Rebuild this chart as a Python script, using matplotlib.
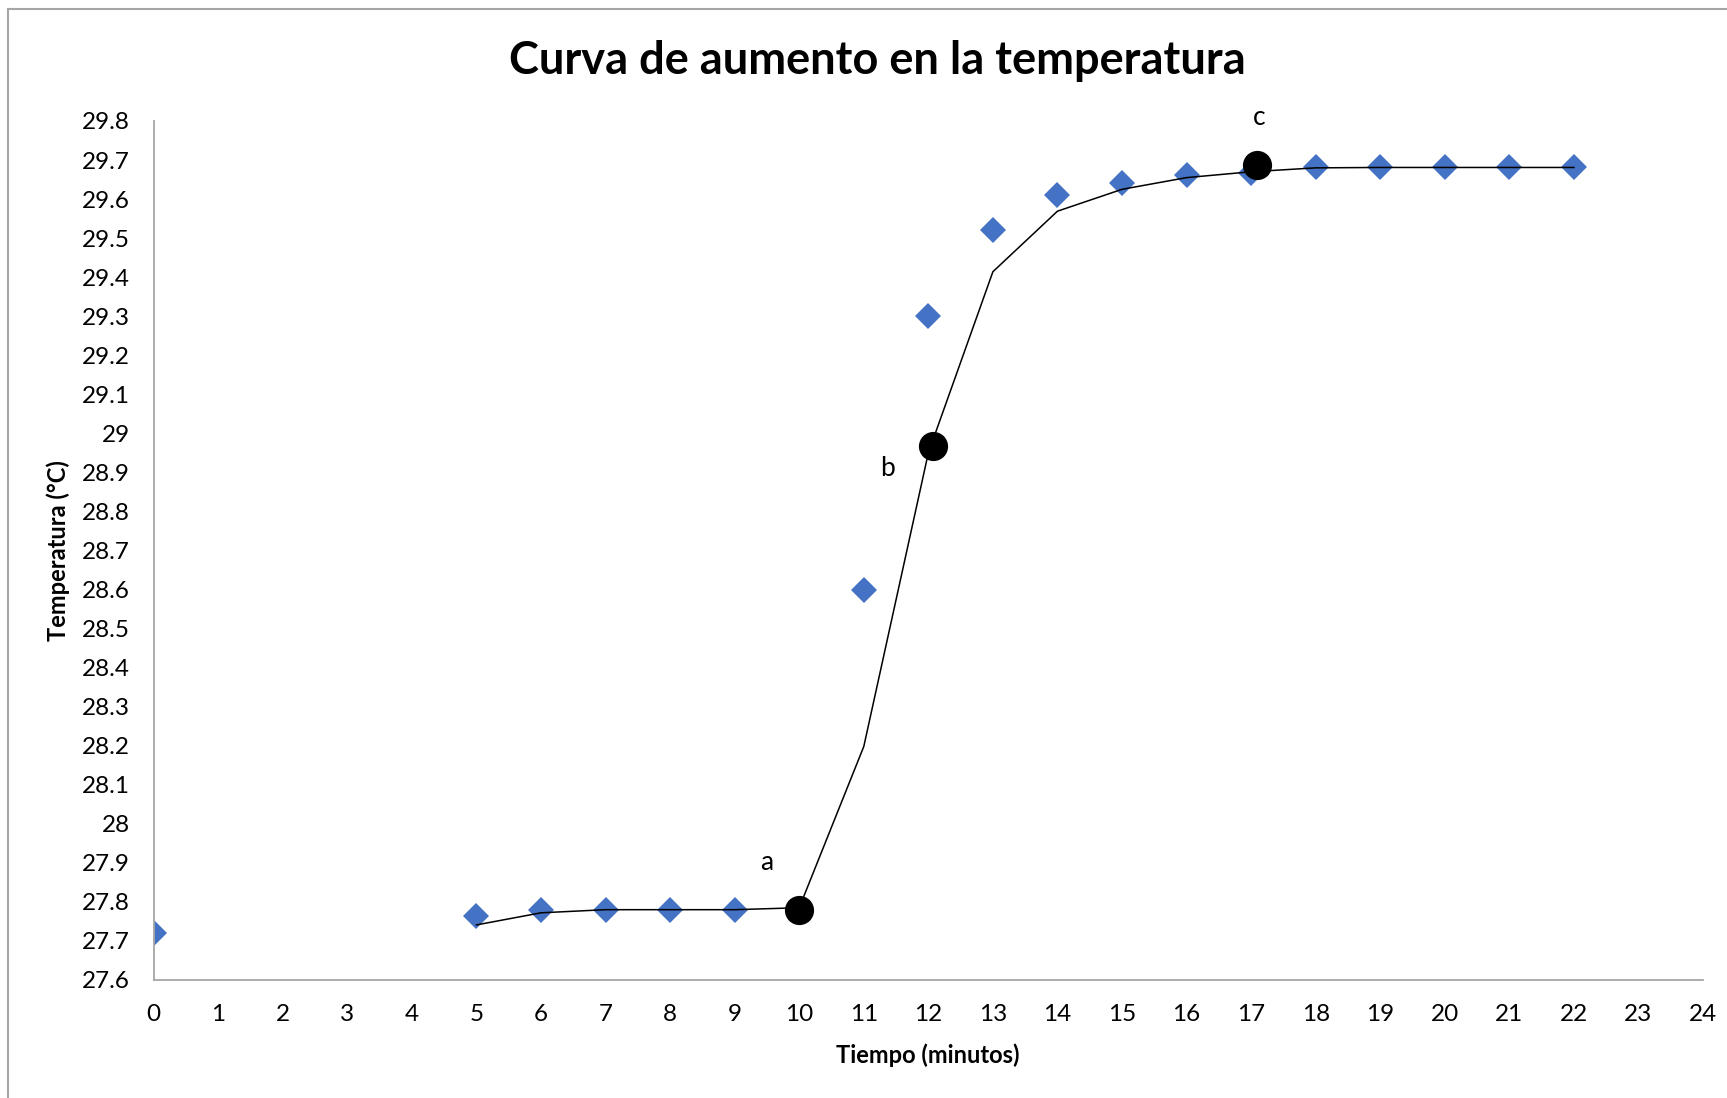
import numpy as np
import matplotlib
matplotlib.use("Agg")
import matplotlib.pyplot as plt
from matplotlib.lines import Line2D
from matplotlib.ticker import MultipleLocator, FuncFormatter

plt.rcParams['font.family'] = ['Lato', 'DejaVu Sans']

# lecturas de temperatura (diamantes)
t_min = [0, 5, 6, 7, 8, 9, 10, 11, 12, 13, 14, 15, 16, 17, 18, 19, 20, 21, 22]
temp = [27.72, 27.764, 27.78, 27.78, 27.78, 27.78, 27.78, 28.60, 29.30, 29.52,
        29.611, 29.642, 29.662, 29.668, 29.682, 29.682, 29.682, 29.682, 29.682]

# curva de tendencia
t_curva = [5, 6, 7, 8, 9, 10, 11, 12, 13, 14, 15, 16, 17, 18, 19, 20, 21, 22]
temp_curva = [27.741, 27.772, 27.78, 27.78, 27.78, 27.785, 28.198, 28.95, 29.414,
              29.569, 29.625, 29.655, 29.67, 29.68, 29.681, 29.681, 29.681, 29.681]

# puntos a, b, c
pt_nombre = ['a', 'b', 'c']
pt_t = [10.0, 12.07, 17.09]
pt_temp = [27.78, 28.968, 29.687]
etiq_t = [9.5, 11.37, 17.12]
etiq_temp = [27.90, 28.91, 29.81]

fig = plt.figure(figsize=(17.27, 10.98), dpi=100)
ax = fig.add_axes([0.0890, 0.1075, 0.8971, 0.7823])

ax.plot(t_min, temp, linestyle='none', marker='D', markersize=13,
        color='#4472C4', markeredgewidth=0, zorder=2)
ax.plot(t_curva, temp_curva, color='black', linewidth=1.1, zorder=3)
ax.plot(pt_t, pt_temp, linestyle='none', marker='o', markersize=20,
        color='black', zorder=4)
for nom, x, y in zip(pt_nombre, etiq_t, etiq_temp):
    ax.text(x, y, nom, fontsize=19, ha='center', va='center')

ax.set_xlim(0, 24)
ax.set_ylim(27.6, 29.8)
ax.xaxis.set_major_locator(MultipleLocator(1))
ax.set_yticks(np.round(np.arange(27.6, 29.81, 0.1), 1))
ax.yaxis.set_major_formatter(FuncFormatter(lambda v, p: '%g' % round(v, 1)))
ax.tick_params(length=0, labelsize=17.5, pad=17)
ax.tick_params(axis='x', pad=17)
for s in ['top', 'right']:
    ax.spines[s].set_visible(False)
for s in ['left', 'bottom']:
    ax.spines[s].set_color('#A6A6A6')
    ax.spines[s].set_linewidth(1.3)
ax.patch.set_alpha(0)
for lbl in ax.get_xticklabels() + ax.get_yticklabels():
    lbl.set_clip_on(False)

fig.text(877 / 1727, 1 - 61 / 1098, 'Curva de aumento en la temperatura',
         fontsize=32.5, fontweight='bold', ha='center', va='center')
fig.text(928 / 1727, 1 - 1055 / 1098, 'Tiempo (minutos)',
         fontsize=17, fontweight='bold', ha='center', va='center')
fig.text(58 / 1727, 1 - 551 / 1098, 'Temperatura (°C)', rotation=90,
         fontsize=17, fontweight='bold', ha='center', va='center')

# marco del grafico
x0 = 8 / 1727
y0 = 1 - 9 / 1098
fig.add_artist(Line2D([x0, x0], [0, y0], transform=fig.transFigure,
                      color='#A6A6A6', linewidth=1.5))
fig.add_artist(Line2D([x0, 1], [y0, y0], transform=fig.transFigure,
                      color='#A6A6A6', linewidth=1.5))

fig.savefig('out.png', dpi=100)
